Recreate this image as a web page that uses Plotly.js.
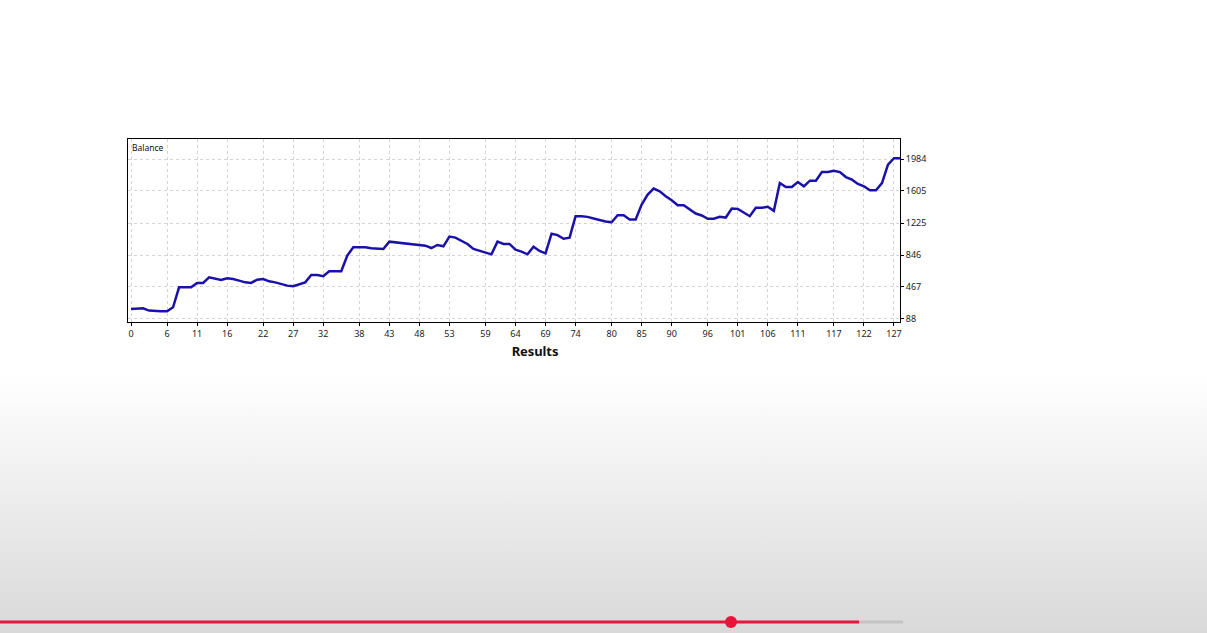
<!DOCTYPE html>
<html><head><meta charset="utf-8">
<script src="https://cdn.plot.ly/plotly-3.0.1.min.js"></script>
<style>
html,body{margin:0;padding:0;width:1207px;height:633px;overflow:hidden;}
body{background:linear-gradient(to bottom,#fff 0px,#fff 375px,#d9d9d9 633px);font-family:"Noto Sans","DejaVu Sans",sans-serif;font-size:10.5px;color:#111;position:relative;}
#plot{position:absolute;left:0;top:0;width:1207px;height:633px;z-index:2;}
#txt{position:absolute;left:0;top:0;z-index:1;}
.t{position:absolute;white-space:nowrap;line-height:14px;letter-spacing:-0.1px;}
.b{font-weight:bold;}
</style></head><body>
<div id="txt"></div>
<div id="plot"></div>
<script>
const trades = [];
const balance = [207,214,214,187,179,179,179,226,463,463,463,515,515,582,570,550,570,562,542,522,
515,554,562,534,522,503,483,475,495,522,609,609,594,653,653,653,839,937,937,937,
925,918,918,1004,996,985,981,973,965,957,929,965,949,1064,1052,1016,977,918,898,878,
854,1004,977,977,910,886,854,945,894,866,1098,1082,1039,1051,1306,1306,1298,1279,1259,1243,
1235,1318,1318,1267,1267,1444,1562,1633,1601,1542,1495,1436,1436,1385,1338,1314,1275,1275,1298,1290,
1397,1393,1346,1306,1405,1405,1417,1369,1699,1652,1652,1711,1660,1727,1727,1829,1829,1845,1829,1770,
1739,1688,1660,1613,1613,1699,1916,1994,1994];
for (let i=0;i<balance.length;i++) trades.push(i);
const xTicks = [0,6,11,16,22,27,32,38,43,48,53,59,64,69,74,80,85,90,96,101,106,111,117,122,127];
const yTicks = [88,467,846,1225,1605,1984];

Plotly.newPlot('plot',[{x:trades,y:balance,type:'scatter',mode:'lines',line:{color:'#1a12a8',width:2.5,shape:'linear'},hoverinfo:'none'}],{
  width:1207,height:633,margin:{l:128,r:307,t:139,b:311},
  paper_bgcolor:'rgba(0,0,0,0)',plot_bgcolor:'#fff',showlegend:false,
  font:{family:'Noto Sans, DejaVu Sans, sans-serif',size:9,color:'#222'},
  xaxis:{range:[-0.5,128],tickvals:xTicks,ticktext:xTicks.map(String),showgrid:true,gridcolor:'#d4d4d4',griddash:'dot',gridwidth:1,zeroline:false,showline:true,linecolor:'#000',mirror:true,ticks:'outside',ticklen:3,tickcolor:'#000',fixedrange:true},
  yaxis:{range:[52,2221],side:'right',tickvals:yTicks,ticktext:yTicks.map(String),showgrid:true,gridcolor:'#d4d4d4',griddash:'dot',gridwidth:1,zeroline:false,showline:true,linecolor:'#000',mirror:true,ticks:'outside',ticklen:3,tickcolor:'#000',fixedrange:true},
  annotations:[{text:'Balance',xref:'paper',yref:'paper',x:0.003,y:0.997,xanchor:'left',yanchor:'top',showarrow:false,font:{size:8.5,color:'#111'}}],
  shapes:[
    {type:'line',xref:'paper',yref:'paper',x0:-128/772,x1:731/772,y0:-300/183,y1:-300/183,line:{color:'#e8143c',width:3}},
    {type:'line',xref:'paper',yref:'paper',x0:731/772,x1:775/772,y0:-300/183,y1:-300/183,line:{color:'#c4c4c4',width:3}},
    {type:'circle',xref:'paper',yref:'paper',x0:(731-128-6)/772,x1:(731-128+6)/772,y0:(-300-6)/183,y1:(-300+6)/183,fillcolor:'#e8143c',line:{width:0}}
  ]
},{displayModeBar:false,staticPlot:true});

const rows = [
 ['Balance:',273,22,0],['2 002.99',417,22,1],['Free Margin:',797,22,0],['2 002.99',935,22,1],
 ['Credit Facility:',273,49,0],['0.00',417,49,1],['Margin:',797,49,0],['0.00',935,49,1],
 ['Floating P/L:',273,76,0],['0.00',417,76,1],['Margin Level:',797,76,0],['0.00%',935,76,1],
 ['Equity:',273,103,0],['2 002.99',417,103,1],
 ['Total Net Profit:',274,372,0],['1 802.99',341,372,1],['Gross Profit:',550,372,0],['3 765.52',651,372,1],['Gross Loss:',935,372,0],['-1 962.53',1069,372,1],
 ['Profit Factor:',274,391,0],['1.92',341,391,1],['Expected Payoff:',550,391,0],['14.20',651,391,1],
 ['Recovery Factor:',274,410,0],['4.73',341,410,1],['Sharpe Ratio:',550,410,0],['0.21',651,410,1],
 ['Balance Drawdown:',273,447,0],
 ['Balance Drawdown Absolute:',273,466,0],['21.00',341,466,1],['Balance Drawdown Maximal:',550,466,0],['380.81 (23.02%)',651,466,1],['Balance Drawdown Relative:',935,466,0],['23.02% (380.81)',1069,466,1],
 ['Total Trades:',273,502,0],['127',341,502,1],['Short Trades (won %):',550,502,0],['67 (37.31%)',651,502,1],['Long Trades (won %):',935,502,0],['60 (48.33%)',1069,502,1],
 ['Profit Trades (% of total):',550,521,0],['54 (42.52%)',651,521,1],['Loss Trades (% of total):',935,521,0],['73 (57.48%)',1069,521,1],
 ['Largest profit trade:',550,540,0],['336.36',651,540,1],['Largest loss trade:',935,540,0],['-58.00',1069,540,1],
 ['Average profit trade:',550,559,0],['69.73',651,559,1],['Average loss trade:',935,559,0],['-26.88',1069,559,1],
 ['Maximum consecutive wins ($):',550,579,0],['5 (353.24)',651,579,1],['Maximum consecutive losses ($):',935,579,0],['7 (-239.09)',1069,579,1],
 ['Maximal consecutive profit (count):',550,598,0],['387.85 (4)',651,598,1],['Maximal consecutive loss (count):',935,598,0],['-239.09 (7)',1069,598,1],
 ['Average consecutive wins:',550,618,0],['2',651,618,1],['Average consecutive losses:',935,618,0],['3',1069,618,1]
];
let h='';
for (const [s,x,y,b] of rows) h+=`<div class="t${b?' b':''}" style="right:${1207-x}px;top:${y-7}px">${s}</div>`;
h+=`<div class="t b" style="left:535px;transform:translateX(-50%);top:343px;font-size:13px;line-height:16px">Results</div>`;
document.getElementById('txt').innerHTML=h;
</script>
</body></html>
